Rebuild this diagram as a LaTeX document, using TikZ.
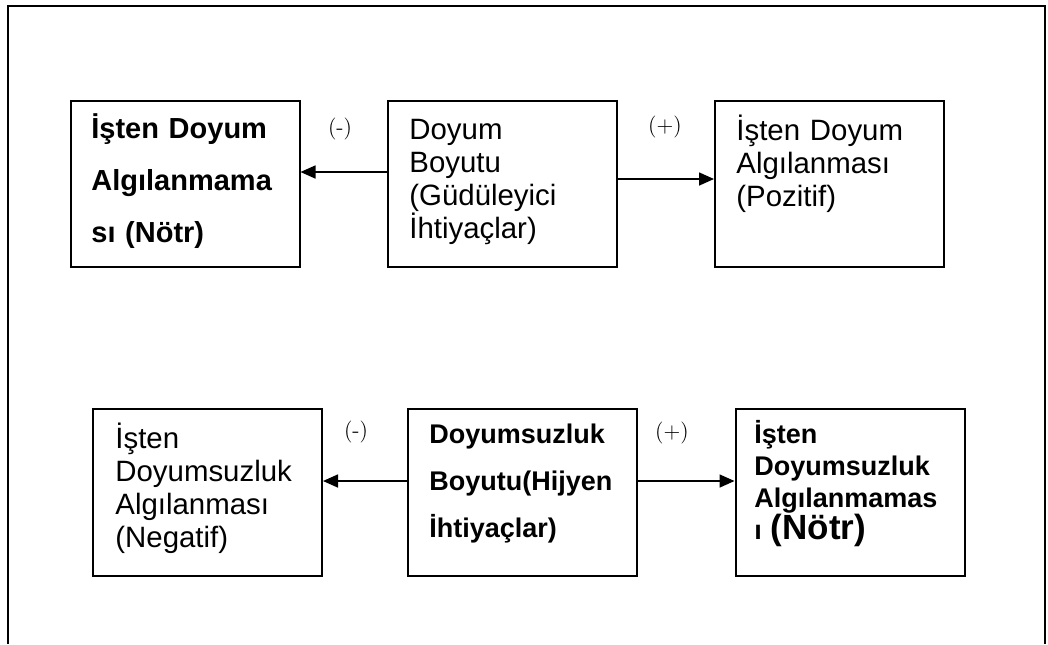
\documentclass[tikz,border=0pt]{standalone}
\usepackage{fontspec}
\newfontfamily\arialfont{Liberation Sans}
\usetikzlibrary{arrows.meta}
\tikzset{
  flow/.style={-{Triangle[length=7.5pt,width=6.5pt]},line width=0.8pt},
  frame/.style={line width=1pt},
  card/.style={draw,line width=1pt,minimum width=114.5pt,minimum height=83.25pt,inner sep=0pt},
  cardtext/.style={anchor=base west,inner sep=0pt,text width=100pt,align=left,
                   font=\arialfont\fontsize{14.7}{16.5}\selectfont},
  cardbold/.style={cardtext,font=\arialfont\bfseries\fontsize{14.5}{26}\selectfont},
  sign/.style={font=\fontsize{11}{13}\selectfont,inner sep=0pt},
}
\begin{document}
\begin{tikzpicture}[x=0.5pt,y=-0.5pt]
    \useasboundingbox (0,0) rectangle (1048,644);
    \draw[frame] (8,644) -- (8,6) -- (1045,6) -- (1045,644);

    % upper row: doyum boyutu
    \node[card] (notr)   at (185,184)   {};
    \node[card] (doyum)  at (502,184)   {};
    \node[card] (pozitif) at (829.5,184) {};
    \node[cardbold] (notrtext) at (91,138) {İşten Doyum\\Algılanmama\\sı (Nötr)};
    \node[cardtext] (doyumtext) at (409,139) {Doyum\\Boyutu\\(Güdüleyici\\İhtiyaçlar)};
    \node[cardtext] (pozitiftext) at (736,140) {İşten Doyum\\Algılanması\\(Pozitif)};

    % lower row: doyumsuzluk boyutu
    \node[card] (negatif) at (207.5,492.5) {};
    \node[card] (hijyen)  at (522.5,492.5) {};
    \node[card] (notralt) at (850,492.5)   {};
    \node[cardtext] (negatiftext) at (115,448) {İşten\\Doyumsuzluk\\Algılanması\\(Negatif)};
    \node[cardbold,font=\arialfont\bfseries\fontsize{13.5}{23.5}\selectfont] (hijyentext) at (429,443)
      {Doyumsuzluk\\Boyutu(Hijyen\\İhtiyaçlar)};
    \node[cardbold,font=\arialfont\bfseries\fontsize{13.5}{16}\selectfont] (notralttext) at (754,443)
      {İşten\\Doyumsuzluk\\Algılanmamas\\ı {\fontsize{17.5}{16}\selectfont(Nötr)}};

    \node[sign] (eksi)    at (340,129) {(-)};
    \node[sign] (arti)    at (665,127) {(+)};
    \node[sign] (eksialt) at (356,432) {(-)};
    \node[sign] (artialt) at (672,433) {(+)};

    \draw[flow] ([yshift=6pt]doyum.west) -- ([yshift=6pt]notr.east);
    \draw[flow] ([yshift=2.5pt]doyum.east) -- ([yshift=2.5pt]pozitif.west);
    \draw[flow] ([yshift=5.75pt]hijyen.west) -- ([yshift=5.75pt]negatif.east);
    \draw[flow] ([yshift=5.75pt]hijyen.east) -- ([yshift=5.75pt]notralt.west);
\end{tikzpicture}
\end{document}
